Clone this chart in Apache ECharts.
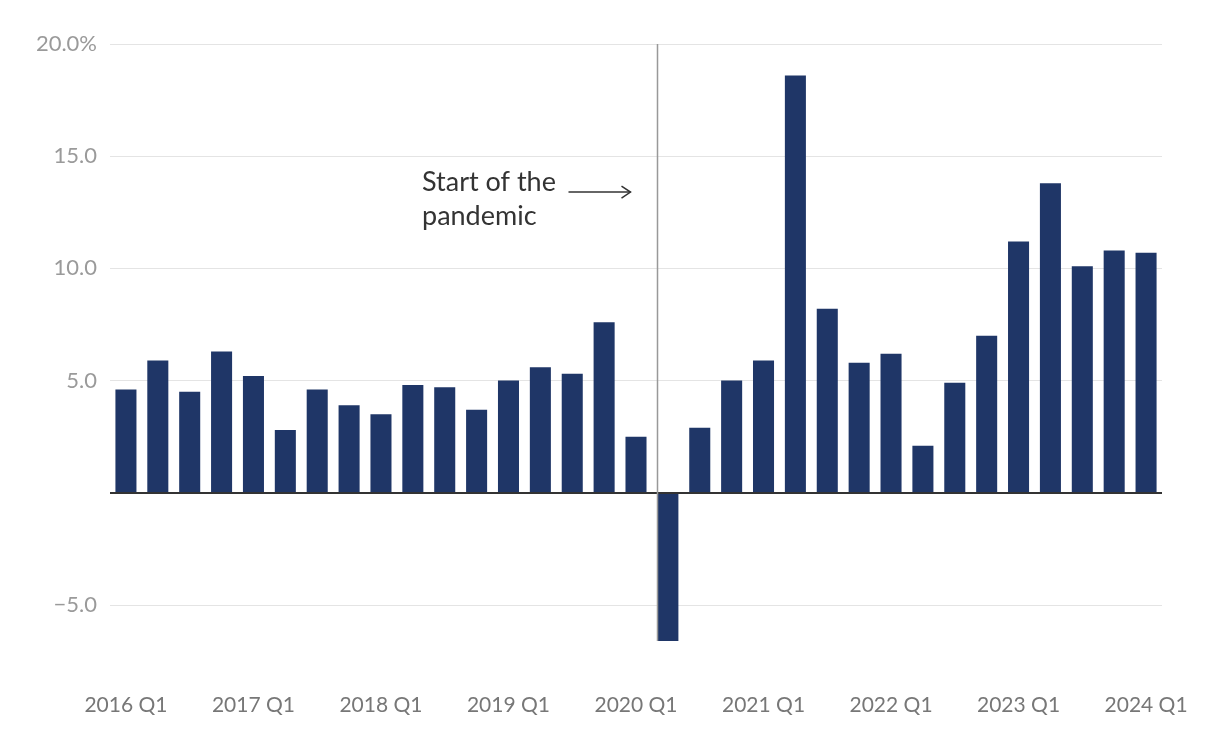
<!DOCTYPE html>
<html>
<head>
<meta charset="utf-8">
<script src="https://cdn.jsdelivr.net/npm/echarts@6/dist/echarts.min.js"></script>
<style>
html,body{margin:0;padding:0;background:#fff;}
#chart{width:1220px;height:756px;}
</style>
</head>
<body>
<div id="chart"></div>
<script>
const categories = [
  '2016 Q1','2016 Q2','2016 Q3','2016 Q4',
  '2017 Q1','2017 Q2','2017 Q3','2017 Q4',
  '2018 Q1','2018 Q2','2018 Q3','2018 Q4',
  '2019 Q1','2019 Q2','2019 Q3','2019 Q4',
  '2020 Q1','2020 Q2','2020 Q3','2020 Q4',
  '2021 Q1','2021 Q2','2021 Q3','2021 Q4',
  '2022 Q1','2022 Q2','2022 Q3','2022 Q4',
  '2023 Q1','2023 Q2','2023 Q3','2023 Q4',
  '2024 Q1'
];
const growth = [
  4.6, 5.9, 4.5, 6.3,
  5.2, 2.8, 4.6, 3.9,
  3.5, 4.8, 4.7, 3.7,
  5.0, 5.6, 5.3, 7.6,
  2.5, -6.6, 2.9, 5.0,
  5.9, 18.6, 8.2, 5.8,
  6.2, 2.1, 4.9, 7.0,
  11.2, 13.8, 10.1, 10.8,
  10.7
];
const yTicks = {'20':'20.0%','15':'15.0','10':'10.0','5':'5.0','0':'','-5':'\u22125.0'};
const pandemicIndex = 17;
const annotationLines = ['Start of the', 'pandemic'];

const FONT = 'Lato, "Noto Sans", sans-serif';
const chart = echarts.init(document.getElementById('chart'), null, {renderer:'canvas'});
const option = {
  animation: false,
  grid: {left: 110, right: 58, top: 44, bottom: 151},
  xAxis: {
    type: 'category',
    data: categories,
    axisLine: {show: false},
    axisTick: {show: false},
    axisLabel: {
      interval: 3,
      margin: 90,
      color: '#777',
      fontSize: 21,
      fontFamily: FONT
    }
  },
  yAxis: {
    type: 'value',
    min: -5, max: 20, interval: 5,
    axisLine: {show: false},
    axisTick: {show: false},
    splitLine: {lineStyle: {color: '#e4e4e4', width: 1}},
    axisLabel: {
      margin: 13,
      color: '#9a9a9a',
      fontSize: 22,
      fontFamily: FONT,
      formatter: v => yTicks[String(v)] !== undefined ? yTicks[String(v)] : ''
    }
  },
  series: [{
    type: 'bar',
    data: growth,
    barWidth: '66%',
    clip: false,
    itemStyle: {color: '#1f3667'},
    z: 3,
    markLine: {
      silent: true,
      symbol: 'none',
      label: {show: false},
      lineStyle: {color: '#333', width: 2, type: 'solid'},
      data: [{yAxis: 0}],
      z: 4
    }
  }]
};
chart.setOption(option);

// pandemic line at left edge of the 2020 Q2 bar
const xc = chart.convertToPixel({xAxisIndex: 0}, pandemicIndex);
const xn = chart.convertToPixel({xAxisIndex: 0}, pandemicIndex + 1);
const band = xn - xc;
const lineX = Math.round(xc - band * 0.33) + 0.5;
const yTop = chart.convertToPixel({yAxisIndex: 0}, 20);
const yBot = chart.convertToPixel({yAxisIndex: 0}, growth[pandemicIndex]);
const yArrow = chart.convertToPixel({yAxisIndex: 0}, 13.4);
const tip = lineX - 27;

chart.setOption({
  graphic: [
    {type: 'line', z: 10, shape: {x1: lineX, y1: yTop, x2: lineX, y2: yBot}, style: {stroke: '#999', lineWidth: 1.5}},
    {type: 'text', z: 10, left: 422, top: 165, style: {text: annotationLines.join('\n'), fill: '#333', font: '27px ' + FONT, lineHeight: 34}},
    {type: 'line', z: 10, shape: {x1: tip - 62, y1: yArrow, x2: tip, y2: yArrow}, style: {stroke: '#333', lineWidth: 1.5}},
    {type: 'polyline', z: 10, shape: {points: [[tip - 9, yArrow - 6], [tip, yArrow], [tip - 9, yArrow + 6]]}, style: {stroke: '#333', lineWidth: 1.5, fill: null}}
  ]
});
</script>
</body>
</html>
